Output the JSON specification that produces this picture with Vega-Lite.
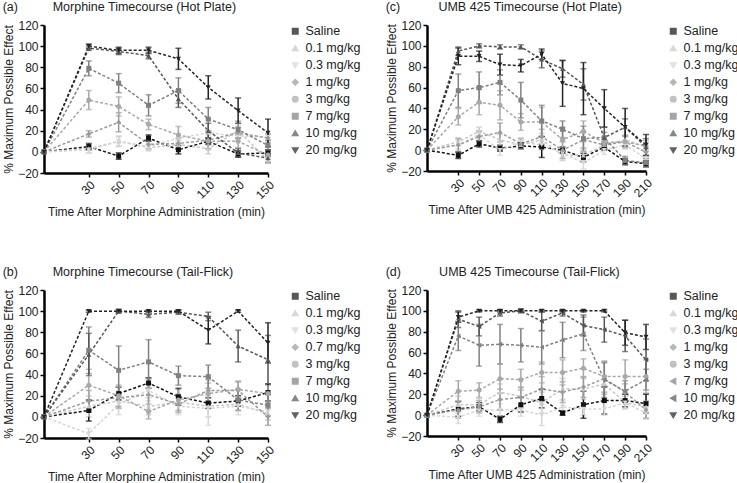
{
"$schema": "https://vega.github.io/schema/vega-lite/v6.json",
"padding": {"left": 2, "top": 0, "right": 0, "bottom": 0},
"background": "white",
"config": {
  "font": "Liberation Sans",
  "view": {"stroke": null},
  "axis": {"domainColor": "#000", "domainWidth": 2.5, "tickColor": "#000", "tickWidth": 1.5, "tickSize": 4, "labelFontSize": 12, "labelColor": "#222", "titleFontSize": 12, "titleFontWeight": "normal", "titleColor": "#222", "grid": false, "labelPadding": 2, "labelOverlap": false},
  "axisX": {"labelAngle": -45, "titlePadding": 6},
  "axisY": {"titlePadding": 2},
  "title": {"fontSize": 12.5, "fontWeight": "normal", "anchor": "start", "frame": "bounds", "offset": 6, "color": "#222"},
  "legend": {"labelFontSize": 12.5, "labelColor": "#222", "symbolSize": 30, "rowPadding": 4, "offset": 18, "title": null}
},
"datasets": {
"a": [
{"s":"Saline","t":0,"v":0,"e":0},{"s":"Saline","t":30,"v":5,"e":3},{"s":"Saline","t":50,"v":-4,"e":3},{"s":"Saline","t":70,"v":13,"e":3},{"s":"Saline","t":90,"v":2,"e":4},{"s":"Saline","t":110,"v":10,"e":3},{"s":"Saline","t":130,"v":-2,"e":3},{"s":"Saline","t":150,"v":-1,"e":3},
{"s":"0.1 mg/kg","t":0,"v":0,"e":0},{"s":"0.1 mg/kg","t":30,"v":3,"e":4},{"s":"0.1 mg/kg","t":50,"v":10,"e":5},{"s":"0.1 mg/kg","t":70,"v":4,"e":3},{"s":"0.1 mg/kg","t":90,"v":7,"e":4},{"s":"0.1 mg/kg","t":110,"v":3,"e":5},{"s":"0.1 mg/kg","t":130,"v":20,"e":4},{"s":"0.1 mg/kg","t":150,"v":-8,"e":3},
{"s":"0.3 mg/kg","t":0,"v":0,"e":0},{"s":"0.3 mg/kg","t":30,"v":2,"e":3},{"s":"0.3 mg/kg","t":50,"v":10,"e":4},{"s":"0.3 mg/kg","t":70,"v":5,"e":3},{"s":"0.3 mg/kg","t":90,"v":13,"e":4},{"s":"0.3 mg/kg","t":110,"v":18,"e":3},{"s":"0.3 mg/kg","t":130,"v":15,"e":4},{"s":"0.3 mg/kg","t":150,"v":14,"e":3},
{"s":"1 mg/kg","t":0,"v":0,"e":0},{"s":"1 mg/kg","t":30,"v":17,"e":3},{"s":"1 mg/kg","t":50,"v":28,"e":9},{"s":"1 mg/kg","t":70,"v":7,"e":4},{"s":"1 mg/kg","t":90,"v":8,"e":5},{"s":"1 mg/kg","t":110,"v":11,"e":8},{"s":"1 mg/kg","t":130,"v":18,"e":5},{"s":"1 mg/kg","t":150,"v":13,"e":4},
{"s":"3 mg/kg","t":0,"v":0,"e":0},{"s":"3 mg/kg","t":30,"v":49,"e":9},{"s":"3 mg/kg","t":50,"v":43,"e":9},{"s":"3 mg/kg","t":70,"v":26,"e":5},{"s":"3 mg/kg","t":90,"v":16,"e":8},{"s":"3 mg/kg","t":110,"v":10,"e":7},{"s":"3 mg/kg","t":130,"v":10,"e":6},{"s":"3 mg/kg","t":150,"v":-3,"e":4},
{"s":"7 mg/kg","t":0,"v":0,"e":0},{"s":"7 mg/kg","t":30,"v":79,"e":7},{"s":"7 mg/kg","t":50,"v":65,"e":9},{"s":"7 mg/kg","t":70,"v":44,"e":10},{"s":"7 mg/kg","t":90,"v":58,"e":12},{"s":"7 mg/kg","t":110,"v":31,"e":11},{"s":"7 mg/kg","t":130,"v":21,"e":8},{"s":"7 mg/kg","t":150,"v":6,"e":5},
{"s":"10 mg/kg","t":0,"v":0,"e":0},{"s":"10 mg/kg","t":30,"v":98,"e":2},{"s":"10 mg/kg","t":50,"v":95,"e":3},{"s":"10 mg/kg","t":70,"v":91,"e":3},{"s":"10 mg/kg","t":90,"v":50,"e":8},{"s":"10 mg/kg","t":110,"v":20,"e":7},{"s":"10 mg/kg","t":130,"v":-1,"e":4},{"s":"10 mg/kg","t":150,"v":-6,"e":4},
{"s":"20 mg/kg","t":0,"v":0,"e":0},{"s":"20 mg/kg","t":30,"v":100,"e":2},{"s":"20 mg/kg","t":50,"v":96,"e":3},{"s":"20 mg/kg","t":70,"v":96,"e":3},{"s":"20 mg/kg","t":90,"v":88,"e":10},{"s":"20 mg/kg","t":110,"v":61,"e":11},{"s":"20 mg/kg","t":130,"v":39,"e":12},{"s":"20 mg/kg","t":150,"v":18,"e":13}
],
"b": [
{"s":"Saline","t":0,"v":0,"e":0},{"s":"Saline","t":30,"v":6,"e":10},{"s":"Saline","t":50,"v":22,"e":6},{"s":"Saline","t":70,"v":32,"e":5},{"s":"Saline","t":90,"v":19,"e":8},{"s":"Saline","t":110,"v":13,"e":5},{"s":"Saline","t":130,"v":15,"e":5},{"s":"Saline","t":150,"v":23,"e":8},
{"s":"0.1 mg/kg","t":0,"v":0,"e":0},{"s":"0.1 mg/kg","t":30,"v":10,"e":10},{"s":"0.1 mg/kg","t":50,"v":15,"e":6},{"s":"0.1 mg/kg","t":70,"v":10,"e":8},{"s":"0.1 mg/kg","t":90,"v":14,"e":8},{"s":"0.1 mg/kg","t":110,"v":10,"e":10},{"s":"0.1 mg/kg","t":130,"v":12,"e":6},{"s":"0.1 mg/kg","t":150,"v":3,"e":6},
{"s":"0.3 mg/kg","t":0,"v":0,"e":0},{"s":"0.3 mg/kg","t":30,"v":-16,"e":5},{"s":"0.3 mg/kg","t":50,"v":12,"e":10},{"s":"0.3 mg/kg","t":70,"v":25,"e":10},{"s":"0.3 mg/kg","t":90,"v":10,"e":8},{"s":"0.3 mg/kg","t":110,"v":8,"e":16},{"s":"0.3 mg/kg","t":130,"v":10,"e":8},{"s":"0.3 mg/kg","t":150,"v":5,"e":8},
{"s":"0.7 mg/kg","t":0,"v":0,"e":0},{"s":"0.7 mg/kg","t":30,"v":15,"e":10},{"s":"0.7 mg/kg","t":50,"v":18,"e":10},{"s":"0.7 mg/kg","t":70,"v":21,"e":15},{"s":"0.7 mg/kg","t":90,"v":12,"e":8},{"s":"0.7 mg/kg","t":110,"v":25,"e":10},{"s":"0.7 mg/kg","t":130,"v":25,"e":8},{"s":"0.7 mg/kg","t":150,"v":0,"e":8},
{"s":"3 mg/kg","t":0,"v":0,"e":0},{"s":"3 mg/kg","t":30,"v":30,"e":15},{"s":"3 mg/kg","t":50,"v":20,"e":10},{"s":"3 mg/kg","t":70,"v":5,"e":7},{"s":"3 mg/kg","t":90,"v":16,"e":10},{"s":"3 mg/kg","t":110,"v":22,"e":10},{"s":"3 mg/kg","t":130,"v":26,"e":8},{"s":"3 mg/kg","t":150,"v":22,"e":8},
{"s":"7 mg/kg","t":0,"v":0,"e":0},{"s":"7 mg/kg","t":30,"v":63,"e":22},{"s":"7 mg/kg","t":50,"v":44,"e":23},{"s":"7 mg/kg","t":70,"v":52,"e":21},{"s":"7 mg/kg","t":90,"v":39,"e":9},{"s":"7 mg/kg","t":110,"v":38,"e":11},{"s":"7 mg/kg","t":130,"v":16,"e":10},{"s":"7 mg/kg","t":150,"v":11,"e":10},
{"s":"10 mg/kg","t":0,"v":0,"e":0},{"s":"10 mg/kg","t":30,"v":59,"e":20},{"s":"10 mg/kg","t":50,"v":100,"e":2},{"s":"10 mg/kg","t":70,"v":97,"e":3},{"s":"10 mg/kg","t":90,"v":99,"e":2},{"s":"10 mg/kg","t":110,"v":95,"e":4},{"s":"10 mg/kg","t":130,"v":67,"e":15},{"s":"10 mg/kg","t":150,"v":54,"e":23},
{"s":"20 mg/kg","t":0,"v":0,"e":0},{"s":"20 mg/kg","t":30,"v":100,"e":1},{"s":"20 mg/kg","t":50,"v":100,"e":1},{"s":"20 mg/kg","t":70,"v":100,"e":1},{"s":"20 mg/kg","t":90,"v":100,"e":1},{"s":"20 mg/kg","t":110,"v":82,"e":13},{"s":"20 mg/kg","t":130,"v":100,"e":1},{"s":"20 mg/kg","t":150,"v":70,"e":19}
],
"c": [
{"s":"Saline","t":0,"v":0,"e":0},{"s":"Saline","t":30,"v":-5,"e":3},{"s":"Saline","t":50,"v":6,"e":3},{"s":"Saline","t":70,"v":2,"e":3},{"s":"Saline","t":90,"v":4,"e":3},{"s":"Saline","t":110,"v":3,"e":10},{"s":"Saline","t":130,"v":0,"e":3},{"s":"Saline","t":150,"v":-7,"e":4},{"s":"Saline","t":170,"v":3,"e":3},{"s":"Saline","t":190,"v":-11,"e":3},{"s":"Saline","t":210,"v":-13,"e":3},
{"s":"0.1 mg/kg","t":0,"v":0,"e":0},{"s":"0.1 mg/kg","t":30,"v":8,"e":4},{"s":"0.1 mg/kg","t":50,"v":18,"e":4},{"s":"0.1 mg/kg","t":70,"v":10,"e":5},{"s":"0.1 mg/kg","t":90,"v":5,"e":4},{"s":"0.1 mg/kg","t":110,"v":10,"e":6},{"s":"0.1 mg/kg","t":130,"v":-5,"e":5},{"s":"0.1 mg/kg","t":150,"v":-5,"e":6},{"s":"0.1 mg/kg","t":170,"v":5,"e":4},{"s":"0.1 mg/kg","t":190,"v":10,"e":4},{"s":"0.1 mg/kg","t":210,"v":3,"e":4},
{"s":"0.3 mg/kg","t":0,"v":0,"e":0},{"s":"0.3 mg/kg","t":30,"v":5,"e":4},{"s":"0.3 mg/kg","t":50,"v":15,"e":4},{"s":"0.3 mg/kg","t":70,"v":0,"e":5},{"s":"0.3 mg/kg","t":90,"v":8,"e":4},{"s":"0.3 mg/kg","t":110,"v":5,"e":5},{"s":"0.3 mg/kg","t":130,"v":-3,"e":5},{"s":"0.3 mg/kg","t":150,"v":-12,"e":6},{"s":"0.3 mg/kg","t":170,"v":0,"e":4},{"s":"0.3 mg/kg","t":190,"v":5,"e":4},{"s":"0.3 mg/kg","t":210,"v":-8,"e":4},
{"s":"1 mg/kg","t":0,"v":0,"e":0},{"s":"1 mg/kg","t":30,"v":5,"e":6},{"s":"1 mg/kg","t":50,"v":13,"e":5},{"s":"1 mg/kg","t":70,"v":17,"e":9},{"s":"1 mg/kg","t":90,"v":6,"e":5},{"s":"1 mg/kg","t":110,"v":13,"e":7},{"s":"1 mg/kg","t":130,"v":0,"e":8},{"s":"1 mg/kg","t":150,"v":10,"e":8},{"s":"1 mg/kg","t":170,"v":5,"e":5},{"s":"1 mg/kg","t":190,"v":8,"e":5},{"s":"1 mg/kg","t":210,"v":-2,"e":4},
{"s":"3 mg/kg","t":0,"v":0,"e":0},{"s":"3 mg/kg","t":30,"v":32,"e":8},{"s":"3 mg/kg","t":50,"v":46,"e":12},{"s":"3 mg/kg","t":70,"v":43,"e":14},{"s":"3 mg/kg","t":90,"v":27,"e":8},{"s":"3 mg/kg","t":110,"v":27,"e":14},{"s":"3 mg/kg","t":130,"v":10,"e":12},{"s":"3 mg/kg","t":150,"v":18,"e":10},{"s":"3 mg/kg","t":170,"v":7,"e":6},{"s":"3 mg/kg","t":190,"v":8,"e":6},{"s":"3 mg/kg","t":210,"v":4,"e":5},
{"s":"7 mg/kg","t":0,"v":0,"e":0},{"s":"7 mg/kg","t":30,"v":57,"e":16},{"s":"7 mg/kg","t":50,"v":60,"e":15},{"s":"7 mg/kg","t":70,"v":65,"e":12},{"s":"7 mg/kg","t":90,"v":48,"e":17},{"s":"7 mg/kg","t":110,"v":28,"e":15},{"s":"7 mg/kg","t":130,"v":20,"e":8},{"s":"7 mg/kg","t":150,"v":11,"e":12},{"s":"7 mg/kg","t":170,"v":12,"e":5},{"s":"7 mg/kg","t":190,"v":-10,"e":4},{"s":"7 mg/kg","t":210,"v":-12,"e":4},
{"s":"10 mg/kg","t":0,"v":0,"e":0},{"s":"10 mg/kg","t":30,"v":95,"e":4},{"s":"10 mg/kg","t":50,"v":100,"e":2},{"s":"10 mg/kg","t":70,"v":99,"e":2},{"s":"10 mg/kg","t":90,"v":99,"e":2},{"s":"10 mg/kg","t":110,"v":87,"e":8},{"s":"10 mg/kg","t":130,"v":78,"e":8},{"s":"10 mg/kg","t":150,"v":63,"e":15},{"s":"10 mg/kg","t":170,"v":12,"e":10},{"s":"10 mg/kg","t":190,"v":22,"e":8},{"s":"10 mg/kg","t":210,"v":3,"e":8},
{"s":"20 mg/kg","t":0,"v":0,"e":0},{"s":"20 mg/kg","t":30,"v":90,"e":8},{"s":"20 mg/kg","t":50,"v":90,"e":5},{"s":"20 mg/kg","t":70,"v":82,"e":10},{"s":"20 mg/kg","t":90,"v":81,"e":6},{"s":"20 mg/kg","t":110,"v":92,"e":5},{"s":"20 mg/kg","t":130,"v":64,"e":22},{"s":"20 mg/kg","t":150,"v":59,"e":25},{"s":"20 mg/kg","t":170,"v":40,"e":18},{"s":"20 mg/kg","t":190,"v":22,"e":18},{"s":"20 mg/kg","t":210,"v":5,"e":10}
],
"d": [
{"s":"Saline","t":0,"v":0,"e":0},{"s":"Saline","t":30,"v":6,"e":7},{"s":"Saline","t":50,"v":8,"e":4},{"s":"Saline","t":70,"v":-4,"e":3},{"s":"Saline","t":90,"v":10,"e":7},{"s":"Saline","t":110,"v":16,"e":9},{"s":"Saline","t":130,"v":2,"e":2},{"s":"Saline","t":150,"v":10,"e":13},{"s":"Saline","t":170,"v":14,"e":13},{"s":"Saline","t":190,"v":14,"e":6},{"s":"Saline","t":210,"v":11,"e":9},
{"s":"0.1 mg/kg","t":0,"v":0,"e":0},{"s":"0.1 mg/kg","t":30,"v":10,"e":8},{"s":"0.1 mg/kg","t":50,"v":10,"e":6},{"s":"0.1 mg/kg","t":70,"v":22,"e":8},{"s":"0.1 mg/kg","t":90,"v":18,"e":8},{"s":"0.1 mg/kg","t":110,"v":12,"e":10},{"s":"0.1 mg/kg","t":130,"v":25,"e":10},{"s":"0.1 mg/kg","t":150,"v":25,"e":10},{"s":"0.1 mg/kg","t":170,"v":30,"e":8},{"s":"0.1 mg/kg","t":190,"v":12,"e":6},{"s":"0.1 mg/kg","t":210,"v":8,"e":6},
{"s":"0.3 mg/kg","t":0,"v":0,"e":0},{"s":"0.3 mg/kg","t":30,"v":-2,"e":6},{"s":"0.3 mg/kg","t":50,"v":5,"e":6},{"s":"0.3 mg/kg","t":70,"v":5,"e":6},{"s":"0.3 mg/kg","t":90,"v":5,"e":6},{"s":"0.3 mg/kg","t":110,"v":0,"e":10},{"s":"0.3 mg/kg","t":130,"v":8,"e":6},{"s":"0.3 mg/kg","t":150,"v":6,"e":6},{"s":"0.3 mg/kg","t":170,"v":6,"e":6},{"s":"0.3 mg/kg","t":190,"v":12,"e":6},{"s":"0.3 mg/kg","t":210,"v":2,"e":6},
{"s":"1 mg/kg","t":0,"v":0,"e":0},{"s":"1 mg/kg","t":30,"v":5,"e":8},{"s":"1 mg/kg","t":50,"v":8,"e":6},{"s":"1 mg/kg","t":70,"v":15,"e":10},{"s":"1 mg/kg","t":90,"v":17,"e":10},{"s":"1 mg/kg","t":110,"v":25,"e":12},{"s":"1 mg/kg","t":130,"v":22,"e":10},{"s":"1 mg/kg","t":150,"v":27,"e":10},{"s":"1 mg/kg","t":170,"v":35,"e":15},{"s":"1 mg/kg","t":190,"v":22,"e":8},{"s":"1 mg/kg","t":210,"v":5,"e":8},
{"s":"3 mg/kg","t":0,"v":0,"e":0},{"s":"3 mg/kg","t":30,"v":23,"e":10},{"s":"3 mg/kg","t":50,"v":24,"e":7},{"s":"3 mg/kg","t":70,"v":35,"e":14},{"s":"3 mg/kg","t":90,"v":34,"e":10},{"s":"3 mg/kg","t":110,"v":41,"e":10},{"s":"3 mg/kg","t":130,"v":41,"e":12},{"s":"3 mg/kg","t":150,"v":45,"e":9},{"s":"3 mg/kg","t":170,"v":37,"e":15},{"s":"3 mg/kg","t":190,"v":37,"e":16},{"s":"3 mg/kg","t":210,"v":37,"e":16},
{"s":"7 mg/kg","t":0,"v":0,"e":0},{"s":"7 mg/kg","t":30,"v":76,"e":14},{"s":"7 mg/kg","t":50,"v":67,"e":20},{"s":"7 mg/kg","t":70,"v":68,"e":19},{"s":"7 mg/kg","t":90,"v":67,"e":16},{"s":"7 mg/kg","t":110,"v":65,"e":16},{"s":"7 mg/kg","t":130,"v":72,"e":17},{"s":"7 mg/kg","t":150,"v":78,"e":16},{"s":"7 mg/kg","t":170,"v":34,"e":17},{"s":"7 mg/kg","t":190,"v":23,"e":10},{"s":"7 mg/kg","t":210,"v":34,"e":10},
{"s":"10 mg/kg","t":0,"v":0,"e":0},{"s":"10 mg/kg","t":30,"v":92,"e":8},{"s":"10 mg/kg","t":50,"v":85,"e":9},{"s":"10 mg/kg","t":70,"v":98,"e":3},{"s":"10 mg/kg","t":90,"v":100,"e":2},{"s":"10 mg/kg","t":110,"v":90,"e":9},{"s":"10 mg/kg","t":130,"v":98,"e":3},{"s":"10 mg/kg","t":150,"v":86,"e":10},{"s":"10 mg/kg","t":170,"v":82,"e":12},{"s":"10 mg/kg","t":190,"v":76,"e":15},{"s":"10 mg/kg","t":210,"v":53,"e":20},
{"s":"20 mg/kg","t":0,"v":0,"e":0},{"s":"20 mg/kg","t":30,"v":94,"e":5},{"s":"20 mg/kg","t":50,"v":100,"e":1},{"s":"20 mg/kg","t":70,"v":100,"e":1},{"s":"20 mg/kg","t":90,"v":100,"e":1},{"s":"20 mg/kg","t":110,"v":100,"e":1},{"s":"20 mg/kg","t":130,"v":100,"e":1},{"s":"20 mg/kg","t":150,"v":100,"e":1},{"s":"20 mg/kg","t":170,"v":100,"e":1},{"s":"20 mg/kg","t":190,"v":79,"e":12},{"s":"20 mg/kg","t":210,"v":75,"e":12}
]
},
"vconcat": [
{"hconcat": [
 {
  "width": 224, "height": 148,
  "title": {"text": "(a)\u00a0\u00a0\u00a0\u00a0\u00a0\u00a0\u00a0\u00a0\u00a0\u00a0Morphine Timecourse (Hot Plate)"},
  "data": {"name": "a"},
  "encoding": {
   "x": {"field": "t", "type": "quantitative", "scale": {"domain": [0, 150], "nice": false, "zero": false}, "axis": {"values": [30, 50, 70, 90, 110, 130, 150], "title": "Time After Morphine Administration (min)"}},
   "y": {"field": "v", "type": "quantitative", "scale": {"domain": [-20, 120], "nice": false}, "axis": {"values": [-20, 0, 20, 40, 60, 80, 100, 120], "title": "% Maximum Possible Effect"}},
   "color": {"field": "s", "type": "nominal", "scale": {"domain": ["Saline", "0.1 mg/kg", "0.3 mg/kg", "1 mg/kg", "3 mg/kg", "7 mg/kg", "10 mg/kg", "20 mg/kg"], "range": ["#111111", "#c8c8c8", "#d6d6d6", "#9a9a9a", "#a8a8a8", "#808080", "#555555", "#222222"]}, "legend": {"title": null}}
  },
  "layer": [
   {"mark": {"type": "line", "strokeDash": [3, 2], "strokeWidth": 1.5}},
   {"mark": {"type": "errorbar", "ticks": {"size": 6}, "thickness": 1.5}, "encoding": {"yError": {"field": "e"}}},
   {"mark": {"type": "point", "filled": true, "size": 25, "opacity": 1}, "encoding": {"shape": {"field": "s", "type": "nominal", "scale": {"domain": ["Saline", "0.1 mg/kg", "0.3 mg/kg", "1 mg/kg", "3 mg/kg", "7 mg/kg", "10 mg/kg", "20 mg/kg"], "range": ["square", "triangle-up", "triangle-down", "diamond", "circle", "square", "triangle-up", "triangle-down"]}, "legend": {"title": null}}}}
  ]
 },
 {
  "width": 219, "height": 146,
  "title": {"text": "(c)\u00a0\u00a0\u00a0\u00a0\u00a0\u00a0\u00a0\u00a0\u00a0\u00a0\u00a0UMB 425 Timecourse (Hot Plate)"},
  "data": {"name": "c"},
  "encoding": {
   "x": {"field": "t", "type": "quantitative", "scale": {"domain": [0, 210], "nice": false, "zero": false}, "axis": {"values": [30, 50, 70, 90, 110, 130, 150, 170, 190, 210], "title": "Time After UMB 425 Administration (min)"}},
   "y": {"field": "v", "type": "quantitative", "scale": {"domain": [-20, 120], "nice": false}, "axis": {"values": [-20, 0, 20, 40, 60, 80, 100, 120], "title": "% Maximum Possible Effect"}},
   "color": {"field": "s", "type": "nominal", "scale": {"domain": ["Saline", "0.1 mg/kg", "0.3 mg/kg", "1 mg/kg", "3 mg/kg", "7 mg/kg", "10 mg/kg", "20 mg/kg"], "range": ["#111111", "#c8c8c8", "#d6d6d6", "#9a9a9a", "#a8a8a8", "#808080", "#555555", "#222222"]}, "legend": {"title": null}}
  },
  "layer": [
   {"mark": {"type": "line", "strokeDash": [3, 2], "strokeWidth": 1.5}},
   {"mark": {"type": "errorbar", "ticks": {"size": 6}, "thickness": 1.5}, "encoding": {"yError": {"field": "e"}}},
   {"mark": {"type": "point", "filled": true, "size": 25, "opacity": 1}, "encoding": {"shape": {"field": "s", "type": "nominal", "scale": {"domain": ["Saline", "0.1 mg/kg", "0.3 mg/kg", "1 mg/kg", "3 mg/kg", "7 mg/kg", "10 mg/kg", "20 mg/kg"], "range": ["square", "triangle-up", "triangle-down", "diamond", "circle", "square", "triangle-up", "triangle-down"]}, "legend": {"title": null}}}}
  ]
 }
], "spacing": 24, "resolve": {"scale": {"color": "independent", "shape": "independent", "x": "independent", "y": "independent"}, "legend": {"color": "independent", "shape": "independent"}}},
{"hconcat": [
 {
  "width": 224, "height": 148,
  "title": {"text": "(b)\u00a0\u00a0\u00a0\u00a0\u00a0\u00a0\u00a0\u00a0\u00a0\u00a0Morphine Timecourse (Tail-Flick)"},
  "data": {"name": "b"},
  "encoding": {
   "x": {"field": "t", "type": "quantitative", "scale": {"domain": [0, 150], "nice": false, "zero": false}, "axis": {"values": [30, 50, 70, 90, 110, 130, 150], "title": "Time After Morphine Administration (min)"}},
   "y": {"field": "v", "type": "quantitative", "scale": {"domain": [-20, 120], "nice": false}, "axis": {"values": [-20, 0, 20, 40, 60, 80, 100, 120], "title": "% Maximum Possible Effect"}},
   "color": {"field": "s", "type": "nominal", "scale": {"domain": ["Saline", "0.1 mg/kg", "0.3 mg/kg", "0.7 mg/kg", "3 mg/kg", "7 mg/kg", "10 mg/kg", "20 mg/kg"], "range": ["#111111", "#c8c8c8", "#d6d6d6", "#9a9a9a", "#a8a8a8", "#808080", "#555555", "#222222"]}, "legend": {"title": null}}
  },
  "layer": [
   {"mark": {"type": "line", "strokeDash": [3, 2], "strokeWidth": 1.5}},
   {"mark": {"type": "errorbar", "ticks": {"size": 6}, "thickness": 1.5}, "encoding": {"yError": {"field": "e"}}},
   {"mark": {"type": "point", "filled": true, "size": 25, "opacity": 1}, "encoding": {"shape": {"field": "s", "type": "nominal", "scale": {"domain": ["Saline", "0.1 mg/kg", "0.3 mg/kg", "0.7 mg/kg", "3 mg/kg", "7 mg/kg", "10 mg/kg", "20 mg/kg"], "range": ["square", "triangle-up", "triangle-down", "diamond", "circle", "square", "triangle-up", "triangle-down"]}, "legend": {"title": null}}}}
  ]
 },
 {
  "width": 219, "height": 146,
  "title": {"text": "(d)\u00a0\u00a0\u00a0\u00a0\u00a0\u00a0\u00a0\u00a0\u00a0\u00a0\u00a0UMB 425 Timecourse (Tail-Flick)"},
  "data": {"name": "d"},
  "encoding": {
   "x": {"field": "t", "type": "quantitative", "scale": {"domain": [0, 210], "nice": false, "zero": false}, "axis": {"values": [30, 50, 70, 90, 110, 130, 150, 170, 190, 210], "title": "Time After UMB 425 Administration (min)"}},
   "y": {"field": "v", "type": "quantitative", "scale": {"domain": [-20, 120], "nice": false}, "axis": {"values": [-20, 0, 20, 40, 60, 80, 100, 120], "title": "% Maximum Possible Effect"}},
   "color": {"field": "s", "type": "nominal", "scale": {"domain": ["Saline", "0.1 mg/kg", "0.3 mg/kg", "1 mg/kg", "3 mg/kg", "7 mg/kg", "10 mg/kg", "20 mg/kg"], "range": ["#111111", "#c8c8c8", "#d6d6d6", "#9a9a9a", "#a8a8a8", "#808080", "#555555", "#222222"]}, "legend": {"title": null}}
  },
  "layer": [
   {"mark": {"type": "line", "strokeDash": [3, 2], "strokeWidth": 1.5}},
   {"mark": {"type": "errorbar", "ticks": {"size": 6}, "thickness": 1.5}, "encoding": {"yError": {"field": "e"}}},
   {"mark": {"type": "point", "filled": true, "size": 25, "opacity": 1}, "encoding": {"shape": {"field": "s", "type": "nominal", "scale": {"domain": ["Saline", "0.1 mg/kg", "0.3 mg/kg", "1 mg/kg", "3 mg/kg", "7 mg/kg", "10 mg/kg", "20 mg/kg"], "range": ["square", "triangle-up", "triangle-down", "diamond", "circle", "triangle-left", "triangle-left", "triangle-down"]}, "legend": {"title": null}}}}
  ]
 }
], "spacing": 24, "resolve": {"scale": {"color": "independent", "shape": "independent", "x": "independent", "y": "independent"}, "legend": {"color": "independent", "shape": "independent"}}}
],
"spacing": 47,
"resolve": {"scale": {"color": "independent", "shape": "independent", "x": "independent", "y": "independent"}, "legend": {"color": "independent", "shape": "independent"}}
}
